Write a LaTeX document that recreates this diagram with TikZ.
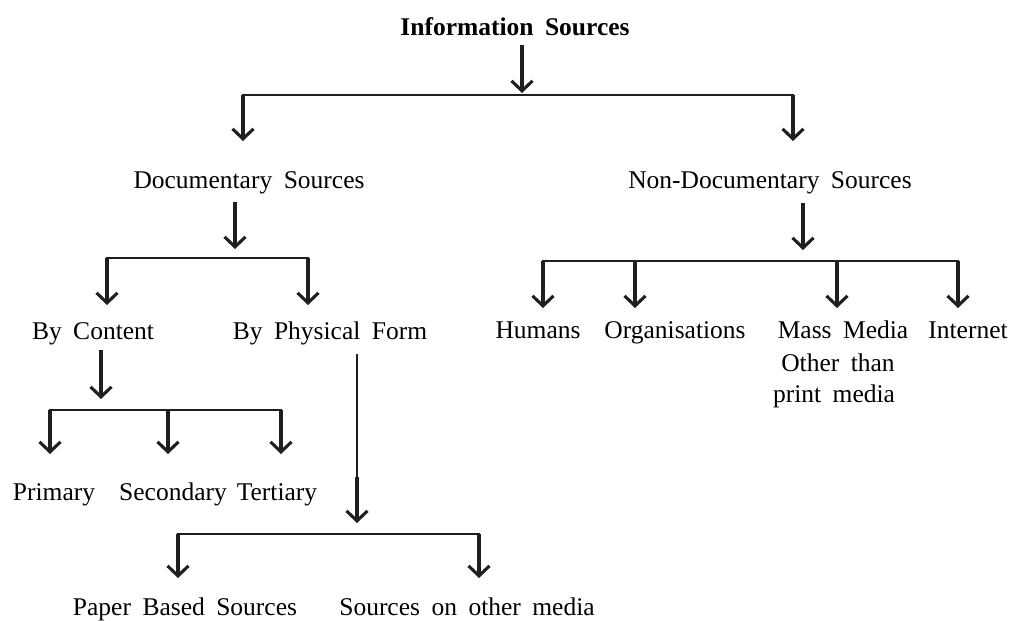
\documentclass[tikz,border=0pt]{standalone}
\usepackage{fontspec}
\setmainfont{Liberation Serif}[WordSpace=1.8]
\usetikzlibrary{arrows.meta}
\begin{document}
\begin{tikzpicture}[x=1pt,y=-1pt,
  lbl/.style={anchor=base,inner sep=0pt,font=\fontsize{25.5}{32}\selectfont},
  ttl/.style={anchor=base,inner sep=0pt,font=\fontsize{25.5}{32}\selectfont\bfseries},
  arr/.style={line width=3.1pt,draw=black!88,-{Straight Barb[length=10pt,width=21pt]}},
  bar/.style={line width=2.6pt,draw=black!88,line cap=rect},
  thin/.style={line width=1.8pt,draw=black!88}]
\useasboundingbox (0,0) rectangle (1015,621);

% text nodes
\node[ttl] (info) at (515,35) {Information Sources};
\node[lbl] (doc) at (249,188) {Documentary Sources};
\node[lbl] (nondoc) at (770,188) {Non-Documentary Sources};
\node[lbl] (content) at (93,339) {By Content};
\node[lbl] (phys) at (330,339) {By Physical Form};
\node[lbl] (prim) at (54,500) {Primary};
\node[lbl] (sec) at (173,500) {Secondary};
\node[lbl] (ter) at (277,500) {Tertiary};
\node[lbl] (paper) at (185,615) {Paper Based Sources};
\node[lbl] (other) at (467,615) {Sources on other media};
\node[lbl] (hum) at (538,338) {Humans};
\node[lbl] (org) at (675,338) {Organisations};
\node[lbl] (mm1) at (843,338) {Mass Media};
\node[lbl] (mm2) at (838,371) {Other than};
\node[lbl] (mm3) at (834,402) {print media};
\node[lbl] (inet) at (968,338) {Internet};

% level 1
\coordinate (i0) at (522,45);
\coordinate (i1) at (522,93);
\coordinate (b1l) at (243,95);
\coordinate (b1r) at (793,95);
\coordinate (t1l) at (243,141);
\coordinate (t1r) at (793,141);
\draw[arr] (i0) -- (i1);
\draw[bar] (b1l) -- (b1r);
\draw[arr] (b1l) -- (t1l);
\draw[arr] (b1r) -- (t1r);

% documentary
\coordinate (d0) at (235,202);
\coordinate (d1) at (235,249);
\coordinate (b2l) at (107,258);
\coordinate (b2r) at (308,258);
\coordinate (t2l) at (107,305);
\coordinate (t2r) at (308,305);
\draw[arr] (d0) -- (d1);
\draw[bar] (b2l) -- (b2r);
\draw[arr] (b2l) -- (t2l);
\draw[arr] (b2r) -- (t2r);

% by content
\coordinate (c0) at (101,350);
\coordinate (c1) at (101,399);
\coordinate (b3l) at (50,410);
\coordinate (b3m) at (168,410);
\coordinate (b3r) at (281,410);
\coordinate (t3l) at (50,454);
\coordinate (t3m) at (168,454);
\coordinate (t3r) at (281,454);
\draw[arr] (c0) -- (c1);
\draw[bar] (b3l) -- (b3r);
\draw[arr] (b3l) -- (t3l);
\draw[arr] (b3m) -- (t3m);
\draw[arr] (b3r) -- (t3r);

% by physical form
\coordinate (p0) at (357,354);
\coordinate (pk) at (357,477);
\coordinate (p1) at (357,523);
\coordinate (b4l) at (178,534);
\coordinate (b4r) at (479,534);
\coordinate (t4l) at (178,578);
\coordinate (t4r) at (479,578);
\draw[thin] (p0) -- (pk);
\draw[arr] (pk) -- (p1);
\draw[bar] (b4l) -- (b4r);
\draw[arr] (b4l) -- (t4l);
\draw[arr] (b4r) -- (t4r);

% non-documentary
\coordinate (n0) at (803,203);
\coordinate (n1) at (803,250);
\coordinate (b5a) at (543,261);
\coordinate (b5b) at (635,261);
\coordinate (b5c) at (837,261);
\coordinate (b5d) at (958,261);
\coordinate (t5a) at (543,308);
\coordinate (t5b) at (635,308);
\coordinate (t5c) at (837,308);
\coordinate (t5d) at (958,308);
\draw[arr] (n0) -- (n1);
\draw[bar] (b5a) -- (b5d);
\draw[arr] (b5a) -- (t5a);
\draw[arr] (b5b) -- (t5b);
\draw[arr] (b5c) -- (t5c);
\draw[arr] (b5d) -- (t5d);
\end{tikzpicture}
\end{document}
